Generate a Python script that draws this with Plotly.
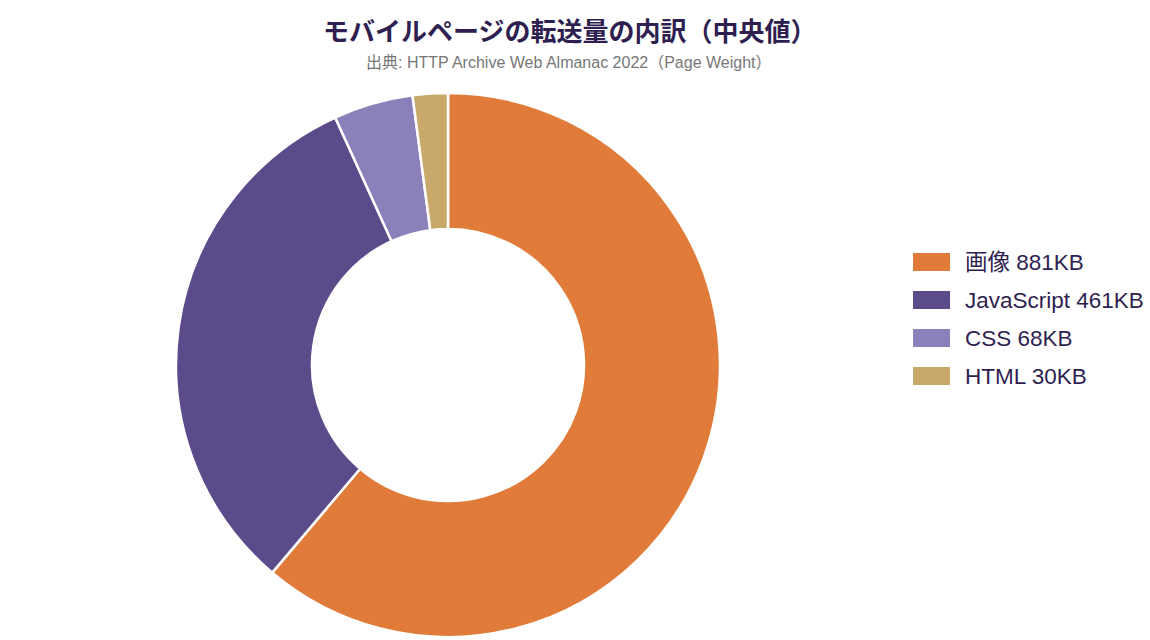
import plotly.graph_objects as go

labels = ["画像", "JavaScript", "CSS", "HTML"]
values = [881, 461, 68, 30]
units = "KB"
colors = ["#E07B39", "#5C4B8A", "#8B80BA", "#C9A96B"]

title_text = "モバイルページの転送量の内訳（中央値）"
subtitle_text = "出典: HTTP Archive Web Almanac 2022（Page Weight）"

W, H = 1150, 640
FONT = "Liberation Sans, Noto Sans CJK JP, sans-serif"
TEXT_COLOR = "#2E1F50"

fig = go.Figure()
fig.add_trace(go.Pie(
    labels=labels,
    values=values,
    hole=0.5,
    sort=False,
    direction="clockwise",
    rotation=0,
    marker=dict(colors=colors, line=dict(color="white", width=2.5)),
    textinfo="none",
    hoverinfo="label+value",
    showlegend=False,
    domain=dict(x=[176 / W, 720 / W], y=[1 - 637 / H, 1 - 93 / H]),
))

# custom legend
leg_x0 = 913
leg_y0 = 262
leg_gap = 38
for i, (lab, val, col) in enumerate(zip(labels, values, colors)):
    yc = leg_y0 + i * leg_gap
    fig.add_shape(type="rect", xref="paper", yref="paper",
                  x0=leg_x0 / W, x1=(leg_x0 + 37) / W,
                  y0=1 - (yc + 9) / H, y1=1 - (yc - 9) / H,
                  fillcolor=col, line=dict(width=0))
    fig.add_annotation(xref="paper", yref="paper",
                       x=(leg_x0 + 50) / W, y=1 - yc / H,
                       xanchor="left", yanchor="middle",
                       text=f"{lab} {val}{units}", showarrow=False,
                       font=dict(family=FONT, size=22.5, color=TEXT_COLOR))

fig.add_annotation(xref="paper", yref="paper", x=569 / W, y=1 - 32 / H,
                   xanchor="center", yanchor="middle", showarrow=False,
                   text=f"<b>{title_text}</b>",
                   font=dict(family=FONT, size=26, color=TEXT_COLOR))
fig.add_annotation(xref="paper", yref="paper", x=569 / W, y=1 - 62 / H,
                   xanchor="center", yanchor="middle", showarrow=False,
                   text=subtitle_text,
                   font=dict(family=FONT, size=16, color="#777777"))

fig.update_layout(
    width=W, height=H,
    margin=dict(l=0, r=0, t=0, b=0),
    paper_bgcolor="white", plot_bgcolor="white",
    font=dict(family=FONT),
)

fig.write_html("out.html")
